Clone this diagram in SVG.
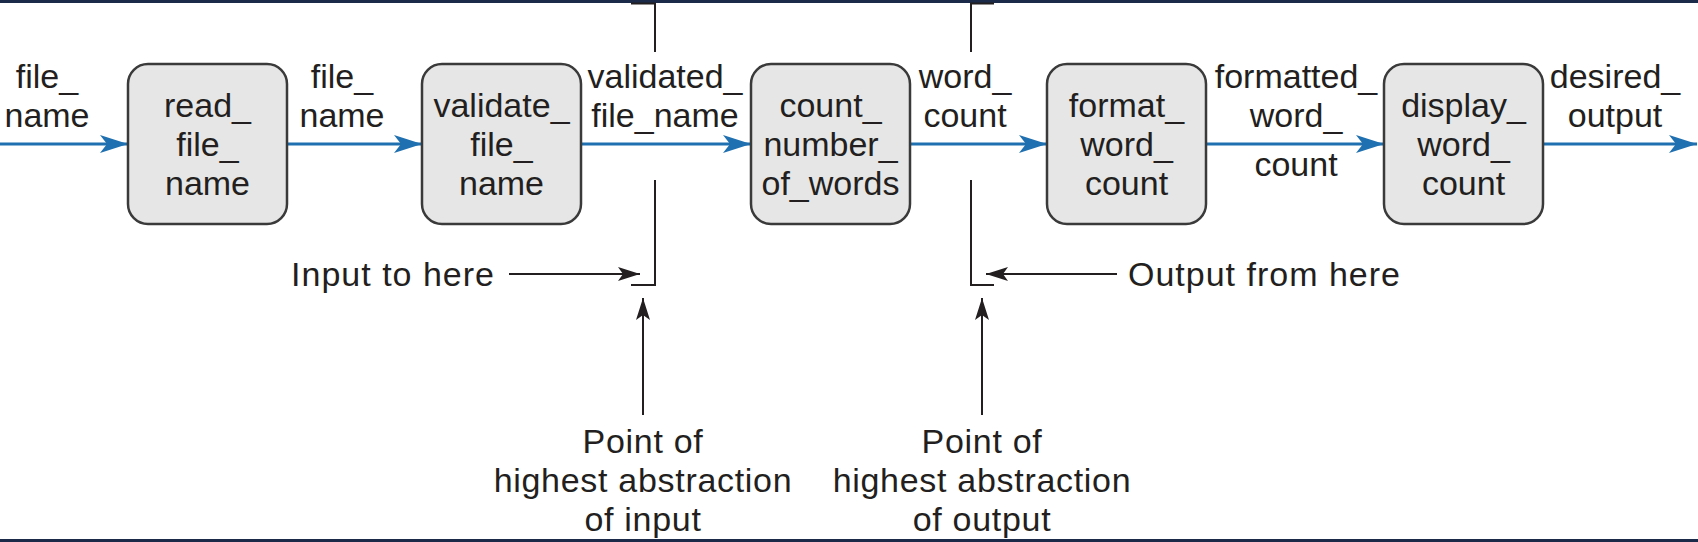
<svg xmlns="http://www.w3.org/2000/svg" width="1698" height="542" viewBox="0 0 1698 542">
<style>
text{font-family:"Liberation Sans","Open Sans",sans-serif;font-size:34px;fill:#231f20;text-anchor:middle}
.wide{letter-spacing:1px}
.mid{letter-spacing:0.7px}
.box{fill:#e6e6e6;stroke:#3a3a3a;stroke-width:2.5}
.flow{fill:none;stroke:#1f70b0;stroke-width:3}
.thin{fill:none;stroke:#231f20;stroke-width:2}
.border{fill:#1c2a4a}
</style>
<defs>
<marker id="ab" viewBox="-29 -10 30 20" markerWidth="30" markerHeight="20" refX="0" refY="0" orient="auto" markerUnits="userSpaceOnUse">
<path d="M0,0 L-28,-9 L-21,0 L-28,9 Z" fill="#1f70b0"/>
</marker>
<marker id="ak" viewBox="-23 -8 24 16" markerWidth="24" markerHeight="16" refX="0" refY="0" orient="auto" markerUnits="userSpaceOnUse">
<path d="M0,0 L-22,-7 L-17,0 L-22,7 Z" fill="#231f20"/>
</marker>
</defs>
<rect class="border" x="0" y="0" width="1698" height="3"/>
<rect class="border" x="0" y="539" width="1698" height="3"/>
<g id="connectors">
<path class="flow" d="M0,144 H128" marker-end="url(#ab)"/>
<path class="flow" d="M287,144 H422" marker-end="url(#ab)"/>
<path class="flow" d="M580,144 H751" marker-end="url(#ab)"/>
<path class="flow" d="M910,144 H1047" marker-end="url(#ab)"/>
<path class="flow" d="M1206,144 H1384" marker-end="url(#ab)"/>
<path class="flow" d="M1543,144 H1697" marker-end="url(#ab)"/>
<path class="thin" d="M631,3.5 H655 V52" stroke-width="2.5"/>
<path class="thin" d="M655,180 V285 H631"/>
<path class="thin" d="M994,3.5 H971 V52" stroke-width="2.5"/>
<path class="thin" d="M971,180 V285 H994"/>
<path class="thin" d="M509,274 H640" stroke-width="1.6" marker-end="url(#ak)"/>
<path class="thin" d="M1117,274 H986" stroke-width="1.6" marker-end="url(#ak)"/>
<path class="thin" d="M643,415 V298" stroke-width="1.6" marker-end="url(#ak)"/>
<path class="thin" d="M982,415 V298" stroke-width="1.6" marker-end="url(#ak)"/>
</g>
<g id="labels">
<text x="47" y="88">file_<tspan x="47" dy="39">name</tspan></text>
<text x="342" y="88">file_<tspan x="342" dy="39">name</tspan></text>
<text x="665" y="88">validated_<tspan x="665" dy="39">file_name</tspan></text>
<text x="965" y="88">word_<tspan x="965" dy="39">count</tspan></text>
<text x="1296" y="88">formatted_<tspan x="1296" dy="39">word_</tspan><tspan x="1296" dy="49">count</tspan></text>
<text x="1615" y="88">desired_<tspan x="1615" dy="39">output</tspan></text>
<text class="wide" x="495" y="286" style="text-anchor:end">Input to here</text>
<text class="wide" x="1128" y="286" style="text-anchor:start">Output from here</text>
<text class="mid" x="643" y="453">Point of<tspan x="643" dy="39">highest abstraction</tspan><tspan x="643" dy="39">of input</tspan></text>
<text class="mid" x="982" y="453">Point of<tspan x="982" dy="39">highest abstraction</tspan><tspan x="982" dy="39">of output</tspan></text>
</g>
<g id="read_file_name">
<rect class="box" x="128" y="64" width="159" height="160" rx="20"/>
<text x="207.5" y="117">read_<tspan x="207.5" dy="39">file_</tspan><tspan x="207.5" dy="39">name</tspan></text>
</g>
<g id="validate_file_name">
<rect class="box" x="422" y="64" width="159" height="160" rx="20"/>
<text x="501.5" y="117">validate_<tspan x="501.5" dy="39">file_</tspan><tspan x="501.5" dy="39">name</tspan></text>
</g>
<g id="count_number_of_words">
<rect class="box" x="751" y="64" width="159" height="160" rx="20"/>
<text x="830.5" y="117">count_<tspan x="830.5" dy="39">number_</tspan><tspan x="830.5" dy="39">of_words</tspan></text>
</g>
<g id="format_word_count">
<rect class="box" x="1047" y="64" width="159" height="160" rx="20"/>
<text x="1126.5" y="117">format_<tspan x="1126.5" dy="39">word_</tspan><tspan x="1126.5" dy="39">count</tspan></text>
</g>
<g id="display_word_count">
<rect class="box" x="1384" y="64" width="159" height="160" rx="20"/>
<text x="1463.5" y="117">display_<tspan x="1463.5" dy="39">word_</tspan><tspan x="1463.5" dy="39">count</tspan></text>
</g>
</svg>
